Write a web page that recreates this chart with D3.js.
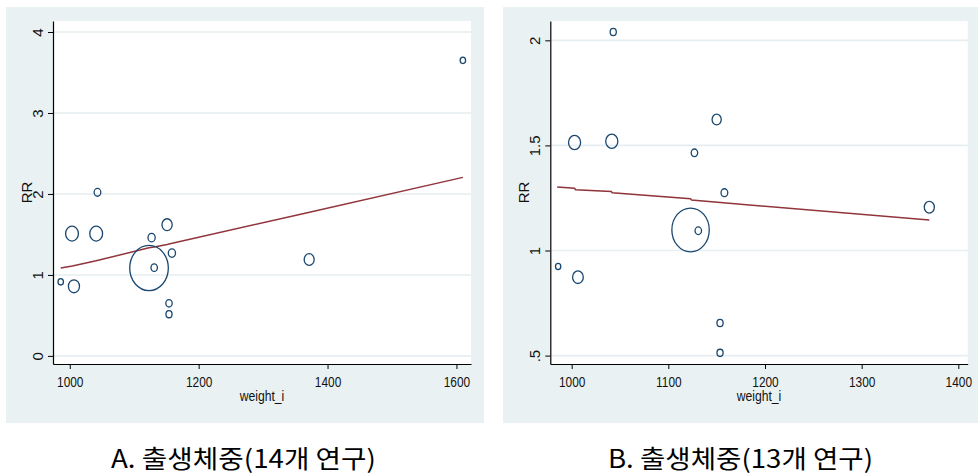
<!DOCTYPE html>
<html><head><meta charset="utf-8">
<script src="https://cdn.jsdelivr.net/npm/d3@7"></script>
<style>
html,body{margin:0;padding:0;background:#fff;}
svg{display:block;}
</style></head>
<body>
<svg id="chart" width="978" height="474"></svg>
<script>
// ---------- DATA ----------
// Panel A: 14 studies
const weightA = [986, 1003.5, 1006.5, 1041, 1043, 1123, 1127, 1131, 1151, 1154, 1154, 1158.5, 1371.5, 1610];
const rrA     = [0.915, 1.51, 0.86, 1.51, 2.02, 1.085, 1.46, 1.09, 1.62, 0.65, 0.515, 1.27, 1.19, 3.65];
const studyWtA= [0.8, 4.4, 3.3, 4.4, 1.2, 40, 1.4, 1.1, 2.8, 1.1, 1.0, 1.4, 2.7, 0.8];
const fitXA = [986, 1004, 1041, 1123, 1131, 1151, 1159, 1372, 1610];
const fitYA = [1.085, 1.11, 1.175, 1.335, 1.345, 1.375, 1.39, 1.775, 2.205];
const xTicksA = [1000, 1200, 1400, 1600];
const yTicksA = [0, 1, 2, 3, 4];
const yTickLabelsA = ["0", "1", "2", "3", "4"];

// Panel B: 13 studies
const weightB = [986, 1003, 1006.5, 1041.5, 1043, 1123, 1127, 1131, 1150, 1153.5, 1153.5, 1158, 1370];
const rrB     = [0.924, 1.514, 0.873, 1.52, 2.04, 1.098, 1.465, 1.094, 1.623, 0.655, 0.513, 1.275, 1.206];
const studyWtB= [0.8, 4.2, 3.3, 4.2, 1.1, 40, 1.2, 1.2, 2.4, 1.1, 1.1, 1.3, 2.9];
const fitXB = [985, 1003, 1004, 1041, 1042, 1123, 1124, 1370];
const fitYB = [1.302, 1.296, 1.289, 1.281, 1.275, 1.246, 1.24, 1.145];
const xTicksB = [1000, 1100, 1200, 1300, 1400];
const yTicksB = [0.5, 1, 1.5, 2];
const yTickLabelsB = [".5", "1", "1.5", "2"];

const xTitle = "weight_i";
const yTitle = "RR";
const captions = ["A. 출생체중(14개 연구)", "B. 출생체중(13개 연구)"];

// ---------- STYLE / LAYOUT ----------
const BG = "#eaf1f3", GRID = "#e6eef1", MARK = "#1a476f", FIT = "#90353b";
const svg = d3.select("#chart");

const panels = [
  {outer:[6,7,478,416], px:[53,471], py:[21,364], xd:[974,1622.6], yd:[-0.1,4.136],
   xs:weightA, ys:rrA, ws:studyWtA, rmax:19.3, fx:fitXA, fy:fitYA,
   xt:xTicksA, yt:yTicksA, ytl:yTickLabelsA, cap:captions[0], capX:111},
  {outer:[503,7,475,416], px:[550.3,967.7], py:[21,364], xd:[977.9,1409.7], yd:[0.46,2.092],
   xs:weightB, ys:rrB, ws:studyWtB, rmax:18.7, fx:fitXB, fy:fitYB,
   xt:xTicksB, yt:yTicksB, ytl:yTickLabelsB, cap:captions[1], capX:608}
];

panels.forEach(p => {
  const g = svg.append("g");
  g.append("rect").attr("x",p.outer[0]).attr("y",p.outer[1]).attr("width",p.outer[2]).attr("height",p.outer[3]).attr("fill",BG);
  g.append("rect").attr("x",p.px[0]).attr("y",p.py[0]).attr("width",p.px[1]-p.px[0]).attr("height",p.py[1]-p.py[0]).attr("fill","#fff");

  const x = d3.scaleLinear().domain(p.xd).range(p.px);
  const y = d3.scaleLinear().domain(p.yd).range([p.py[1], p.py[0]]);
  const r = d3.scaleSqrt().domain([0, d3.max(p.ws)]).range([0, p.rmax]);

  // grid
  g.append("g").selectAll("line").data(p.yt).join("line")
    .attr("x1",p.px[0]+1).attr("x2",p.px[1]).attr("y1",d=>y(d)).attr("y2",d=>y(d))
    .attr("stroke",GRID).attr("stroke-width",1.6);

  // axes
  const xa = g.append("g").attr("transform",`translate(0,${p.py[1]})`)
    .call(d3.axisBottom(x).tickValues(p.xt).tickSize(5).tickSizeOuter(0).tickFormat(d3.format("d")));
  xa.select(".domain").attr("stroke","#000").attr("stroke-width",1.2);
  xa.selectAll(".tick line").attr("stroke","#000").attr("stroke-width",1);
  xa.selectAll(".tick text").attr("font-family","'Liberation Sans', Arial, sans-serif")
    .attr("font-size",14.5).attr("fill","#111").attr("y",0).attr("dy",0)
    .attr("transform","translate(0,22.5) scale(0.82,1)");

  const ya = g.append("g").attr("transform",`translate(${p.px[0]},0)`)
    .call(d3.axisLeft(y).tickValues(p.yt).tickSize(5).tickSizeOuter(0).tickFormat((d,i)=>p.ytl[i]));
  ya.select(".domain").attr("stroke","#000").attr("stroke-width",1.2);
  ya.selectAll(".tick line").attr("stroke","#000").attr("stroke-width",1);
  ya.selectAll(".tick text").attr("font-family","'Liberation Sans', Arial, sans-serif")
    .attr("font-size",15).attr("fill","#111").attr("x",0).attr("y",0).attr("dy",0)
    .attr("text-anchor","middle").attr("transform","translate(-10,0) rotate(-90)");

  // axis titles
  g.append("text").attr("transform",`translate(${(p.px[0]+p.px[1])/2},401) scale(0.84,1)`)
    .attr("text-anchor","middle").attr("font-family","'Liberation Sans', Arial, sans-serif")
    .attr("font-size",14.5).attr("fill","#111").text(xTitle);
  g.append("text").attr("transform",`translate(${p.px[0]-21},${(p.py[0]+p.py[1])/2}) rotate(-90)`)
    .attr("text-anchor","middle").attr("font-family","'Liberation Sans', Arial, sans-serif")
    .attr("font-size",15).attr("fill","#111").text(yTitle);

  // fitted line
  const line = d3.line().x(d=>x(d[0])).y(d=>y(d[1]));
  g.append("path").datum(p.fx.map((v,i)=>[v,p.fy[i]])).attr("d",line)
    .attr("fill","none").attr("stroke",FIT).attr("stroke-width",1.5);

  // bubbles
  g.append("g").selectAll("ellipse").data(p.xs.map((v,i)=>({x:v,y:p.ys[i],w:p.ws[i]}))).join("ellipse")
    .attr("cx",d=>x(d.x)).attr("cy",d=>y(d.y))
    .attr("rx",d=>r(d.w)).attr("ry",d=>r(d.w)*1.17)
    .attr("fill","none").attr("stroke",MARK).attr("stroke-width",1.3);

  // caption
  g.append("text").attr("x",p.capX).attr("y",467.5)
    .attr("font-family","'Noto Sans CJK KR', sans-serif").attr("font-size",25).attr("fill","#000")
    .attr("textLength",265).attr("lengthAdjust","spacingAndGlyphs").text(p.cap);
});
</script>
</body></html>
